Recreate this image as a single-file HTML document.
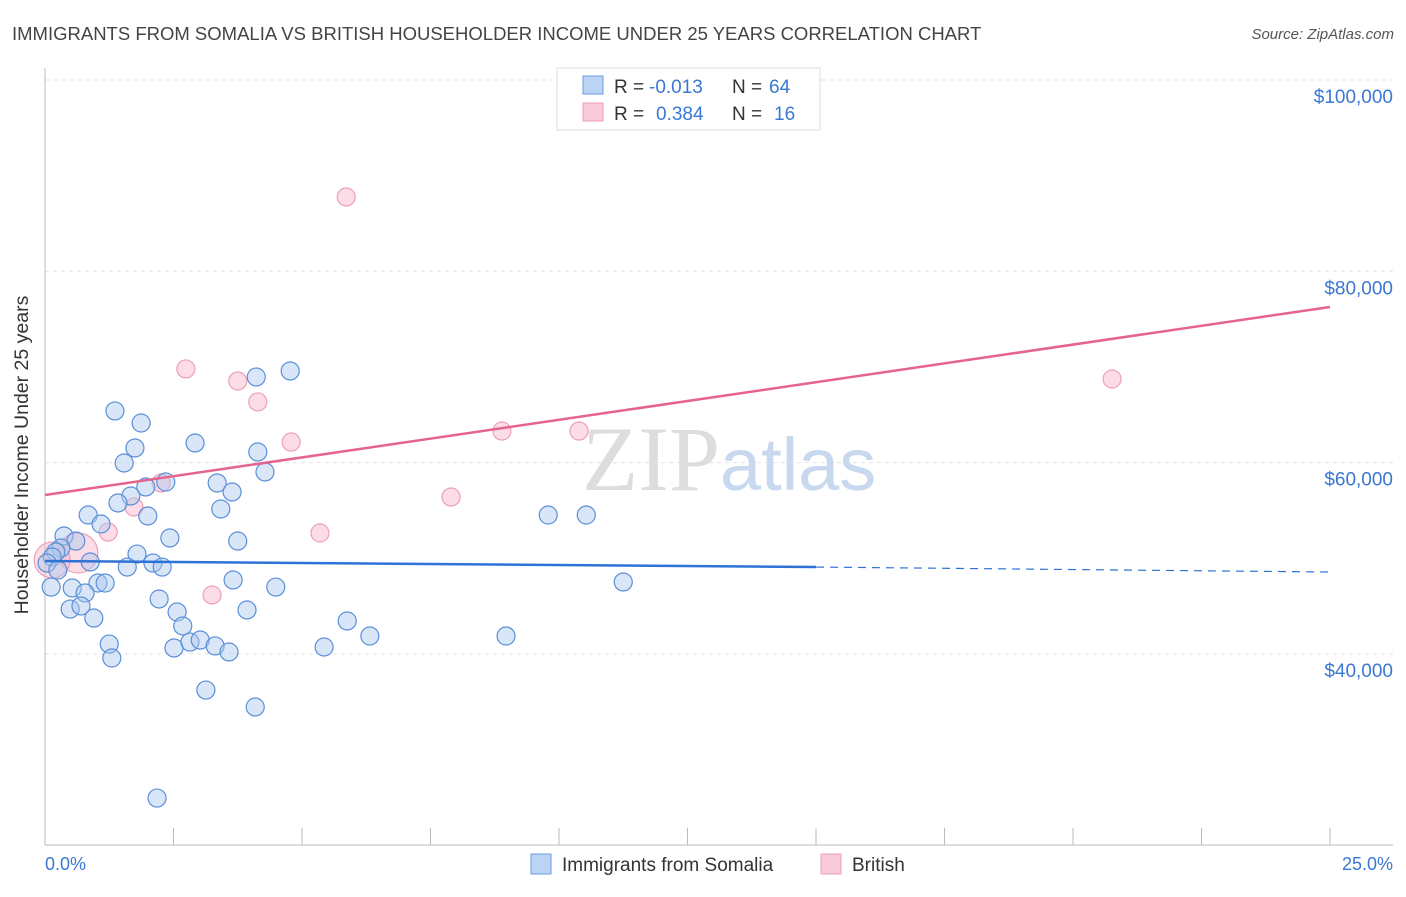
<!DOCTYPE html>
<html><head><meta charset="utf-8"><style>
body{margin:0;background:#fff;font-family:"Liberation Sans",sans-serif}
</style></head><body>
<svg width="1406" height="892" xmlns="http://www.w3.org/2000/svg">
<text x="12" y="40" font-size="18.5" fill="#444">IMMIGRANTS FROM SOMALIA VS BRITISH HOUSEHOLDER INCOME UNDER 25 YEARS CORRELATION CHART</text>
<text x="1394" y="39" font-size="15" fill="#555" font-style="italic" text-anchor="end">Source: ZipAtlas.com</text>
<g id="grid"></g>
<text x="720" y="490" font-size="92" fill="#ddd" text-anchor="end" font-family="Liberation Serif">ZIP</text>
<text x="720" y="490" font-size="74" fill="#c8d9ef">atlas</text>
<g id="pts"></g>
<g id="lines"></g>
<text x="28" y="455" font-size="19.5" fill="#333" text-anchor="middle" transform="rotate(-90 28 455)">Householder Income Under 25 years</text>
<text x="45" y="870" font-size="18" fill="#3a78d4">0.0%</text>
<text x="1393" y="870" font-size="18" fill="#3a78d4" text-anchor="end">25.0%</text>
<g>
<rect x="557" y="68" width="263" height="62" fill="#fff" stroke="#ddd"/>
<rect x="583" y="76" width="20" height="18" fill="#bcd4f4" stroke="#6d9be0"/>
<rect x="583" y="103" width="20" height="18" fill="#f9cad8" stroke="#eba0b8"/>
<text x="614" y="93" font-size="19" fill="#333">R =</text>
<text x="649" y="93" font-size="19" fill="#3a78d4">-0.013</text>
<text x="732" y="93" font-size="19" fill="#333">N =</text>
<text x="769" y="93" font-size="19" fill="#3a78d4">64</text>
<text x="614" y="120" font-size="19" fill="#333">R =</text>
<text x="656" y="120" font-size="19" fill="#3a78d4">0.384</text>
<text x="732" y="120" font-size="19" fill="#333">N =</text>
<text x="774" y="120" font-size="19" fill="#3a78d4">16</text>
</g>
<g>
<rect x="531" y="854" width="20" height="20" fill="#bcd4f4" stroke="#6d9be0"/>
<text x="562" y="871" font-size="19" fill="#333">Immigrants from Somalia</text>
<rect x="821" y="854" width="20" height="20" fill="#f9cad8" stroke="#eba0b8"/>
<text x="852" y="871" font-size="19" fill="#333">British</text>
</g>
</svg>
<script>
const yTicks=[100000,80000,60000,40000];
const yTickLabels=["$100,000","$80,000","$60,000","$40,000"];
const blueX=[1.36,1.87,1.75,1.54,2.92,4.14,4.11,4.77,4.28,2.35,1.96,1.67,1.42,3.35,3.64,3.42,2.00,0.84,1.09,0.37,0.60,0.31,0.21,0.14,0.04,0.88,1.79,1.60,2.10,2.28,2.43,3.75,1.03,1.17,0.53,0.78,0.12,0.49,0.70,0.95,2.22,2.57,2.68,3.66,4.49,3.93,1.25,1.30,2.51,2.82,3.02,3.31,3.58,3.13,4.09,2.18,5.43,5.88,6.32,8.97,9.79,10.53,11.25,0.25];
const blueY=[65400,64140,61530,59960,62050,61110,68950,69580,59020,57970,57450,56510,55780,57870,56930,55150,54420,54520,53580,52330,51800,51070,50650,50130,49500,49610,50440,49080,49500,49080,52120,51800,47410,47410,46890,46370,46990,44690,45010,43750,45740,44380,42920,47730,46990,44590,41030,39570,40620,41240,41450,40830,40200,36220,34450,24930,40720,43440,41870,41870,54520,54520,47520,48770];
const pinkX=[5.86,2.74,3.75,4.14,4.79,2.26,1.73,1.23,0.64,0.14,3.25,5.35,7.90,8.89,10.39,20.76];
const pinkY=[87770,69790,68530,66340,62150,57870,55360,52740,50550,49820,46160,52640,56400,63300,63300,68740];
const pinkR=[9,9,9,9,9,9,9,9,20,18,9,9,9,9,9,9];
const blueTrend=[49710,49080,48560];
const pinkTrend=[56610,76270];
const NS="http://www.w3.org/2000/svg";
const X=p=>45+p*51.4;
const Y=v=>80+(100000-v)*191.3/20000;
function mk(t,a,parent){const e=document.createElementNS(NS,t);for(const k in a)e.setAttribute(k,a[k]);document.getElementById(parent).appendChild(e);return e;}
yTicks.forEach((v,i)=>{
 const g=mk('line',{x1:45,x2:1393,y1:Y(v),y2:Y(v),stroke:'#e2e2e2','stroke-dasharray':'4,4'},'grid');
 
 
 const t=mk('text',{x:1393,y:Y(v)+23,'font-size':19,fill:'#3a78d4','text-anchor':'end'},'grid');
 t.textContent=yTickLabels[i];
 
 
});
const ax=mk('line',{x1:45,x2:1393,y1:845,y2:845,stroke:'#bbb'},'grid');


const ay=mk('line',{x1:45,x2:45,y1:68,y2:845,stroke:'#bbb'},'grid');


for(let i=1;i<=10;i++){
 const t=mk('line',{x1:X(i*2.5),x2:X(i*2.5),y1:828,y2:845,stroke:'#bbb'},'grid');
 
 
}
pinkX.forEach((x,i)=>{
 const c=mk('circle',{cx:X(x),cy:Y(pinkY[i]),r:pinkR[i],fill:'rgba(248,180,200,0.45)',stroke:'#eba0b8','stroke-width':1.2},'pts');
 
 
});
blueX.forEach((x,i)=>{
 const c=mk('circle',{cx:X(x),cy:Y(blueY[i]),r:9,fill:'rgba(170,200,240,0.45)',stroke:'#5b8fd8','stroke-width':1.2},'pts');
 
 
});
const b1=mk('line',{x1:X(0),y1:Y(blueTrend[0]),x2:X(15),y2:Y(blueTrend[1]),stroke:'#2f72d6','stroke-width':2.5},'lines');


const b2=mk('line',{x1:X(15),y1:Y(blueTrend[1]),x2:X(25),y2:Y(blueTrend[2]),stroke:'#2f72d6','stroke-width':1.2,'stroke-dasharray':'8,6'},'lines');


const p1=mk('line',{x1:X(0),y1:Y(pinkTrend[0]),x2:X(25),y2:Y(pinkTrend[1]),stroke:'#e5638e','stroke-width':2.5},'lines');


</script>
</body></html>
